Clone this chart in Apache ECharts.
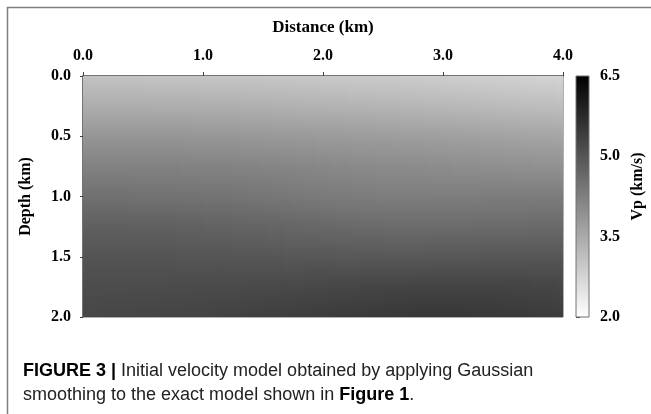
<!DOCTYPE html>
<html>
<head>
<meta charset="utf-8">
<script src="https://cdn.jsdelivr.net/npm/echarts@6/dist/echarts.min.js"></script>
<style>
  html, body { margin: 0; padding: 0; background: #ffffff; }
  #chart { width: 651px; height: 414px; }
</style>
</head>
<body>
<div id="chart"></div>
<script>
// Grid nodes of the smoothed velocity model (km)
const distanceKm = [0, 0.25, 0.5, 0.75, 1.0, 1.25, 1.5, 1.75, 2.0, 2.25, 2.5, 2.75, 3.0, 3.25, 3.5, 3.75, 4.0];
const depthKm = [0, 0.25, 0.5, 0.75, 1.0, 1.25, 1.5, 1.75, 2.0];

// P-wave velocity (km/s) at the nodes, one array per depth level
const vpDepth000 = [3.07, 3.06, 3.05, 3.04, 3.03, 3.02, 3.00, 2.98, 2.96, 2.94, 2.92, 2.90, 2.88, 2.85, 2.82, 2.79, 2.76];
const vpDepth025 = [3.45, 3.45, 3.44, 3.43, 3.42, 3.41, 3.39, 3.37, 3.35, 3.33, 3.31, 3.29, 3.26, 3.23, 3.20, 3.17, 3.15];
const vpDepth050 = [3.85, 3.85, 3.85, 3.85, 3.84, 3.83, 3.81, 3.79, 3.77, 3.75, 3.73, 3.71, 3.69, 3.66, 3.63, 3.60, 3.58];
const vpDepth075 = [4.20, 4.20, 4.20, 4.20, 4.19, 4.18, 4.16, 4.13, 4.10, 4.07, 4.05, 4.03, 4.01, 3.99, 3.97, 3.95, 3.93];
const vpDepth100 = [4.52, 4.52, 4.51, 4.50, 4.48, 4.46, 4.43, 4.39, 4.35, 4.32, 4.30, 4.29, 4.29, 4.30, 4.31, 4.32, 4.33];
const vpDepth125 = [4.82, 4.82, 4.81, 4.80, 4.78, 4.76, 4.73, 4.70, 4.67, 4.64, 4.62, 4.61, 4.61, 4.62, 4.63, 4.64, 4.65];
const vpDepth150 = [5.02, 5.02, 5.02, 5.01, 5.00, 4.99, 4.98, 4.97, 4.96, 4.95, 4.95, 4.95, 4.96, 4.97, 4.98, 4.98, 4.98];
const vpDepth175 = [5.15, 5.15, 5.16, 5.17, 5.18, 5.19, 5.21, 5.23, 5.25, 5.27, 5.29, 5.31, 5.32, 5.32, 5.31, 5.29, 5.27];
const vpDepth200 = [5.25, 5.26, 5.28, 5.30, 5.32, 5.35, 5.38, 5.41, 5.44, 5.47, 5.50, 5.52, 5.53, 5.52, 5.50, 5.47, 5.44];
const vpRows = [vpDepth000, vpDepth025, vpDepth050, vpDepth075, vpDepth100,
                vpDepth125, vpDepth150, vpDepth175, vpDepth200];

// Axis ranges and colour-bar ticks
const distanceRange = [0, 4];
const depthRange = [0, 2];
const vpRange = [2.0, 6.5];
const vpTickStep = 1.5;

const serif = 'Liberation Serif';
const sans = 'Liberation Sans';

// Linear grey scale: white at the lowest velocity, black at the highest
function greyFor(v) {
  const t = Math.min(1, Math.max(0, (v - vpRange[0]) / (vpRange[1] - vpRange[0])));
  const g = Math.round(255 * (1 - t));
  return 'rgb(' + g + ',' + g + ',' + g + ')';
}

function verticalShade(vTop, vBottom) {
  return new echarts.graphic.LinearGradient(0, 0, 0, 1, [
    { offset: 0, color: greyFor(vTop) },
    { offset: 1, color: greyFor(vBottom) }
  ]);
}

// One cell between each pair of neighbouring nodes: [x0, x1, z0, z1, v00, v10, v01, v11]
const cells = [];
for (let j = 0; j < depthKm.length - 1; j++) {
  for (let i = 0; i < distanceKm.length - 1; i++) {
    cells.push([distanceKm[i], distanceKm[i + 1], depthKm[j], depthKm[j + 1],
                vpRows[j][i], vpRows[j][i + 1], vpRows[j + 1][i], vpRows[j + 1][i + 1]]);
  }
}

// Each cell is shaded bilinearly from its four corner velocities,
// using narrow columns that each carry a vertical gradient.
function renderCell(params, api) {
  const p0 = api.coord([api.value(0), api.value(2)]);
  const p1 = api.coord([api.value(1), api.value(3)]);
  const left = Math.round(p0[0]), right = Math.round(p1[0]);
  const top = Math.round(p0[1]), bottom = Math.round(p1[1]);
  const vtl = api.value(4), vtr = api.value(5), vbl = api.value(6), vbr = api.value(7);
  const children = [];
  const step = 2;
  for (let x = left; x < right; x += step) {
    const w = Math.min(step, right - x);
    const f = (x + w / 2 - left) / (right - left);
    children.push({
      type: 'rect',
      shape: { x: x, y: top, width: w, height: bottom - top },
      style: { fill: verticalShade(vtl + (vtr - vtl) * f, vbl + (vbr - vbl) * f) }
    });
  }
  return { type: 'group', children: children };
}

function renderColourBar(params, api) {
  const p0 = api.coord([0, api.value(1)]);
  const p1 = api.coord([1, api.value(0)]);
  return {
    type: 'rect',
    shape: { x: p0[0], y: p0[1], width: p1[0] - p0[0], height: p1[1] - p0[1] },
    style: { fill: verticalShade(api.value(1), api.value(0)), stroke: '#707070', lineWidth: 1 }
  };
}

const axisText = { fontFamily: serif, fontWeight: 'bold', fontSize: 16, color: '#000' };

const chart = echarts.init(document.getElementById('chart'), null, { renderer: 'canvas' });
chart.setOption({
  animation: false,
  backgroundColor: '#ffffff',
  grid: [
    { left: 83, top: 76, width: 480, height: 241, show: true, borderColor: '#606060', borderWidth: 1, backgroundColor: 'transparent' },
    { left: 576, top: 76, width: 13, height: 241, show: false }
  ],
  xAxis: [
    {
      type: 'value', gridIndex: 0, position: 'top',
      min: distanceRange[0], max: distanceRange[1], interval: 1,
      name: 'Distance (km)', nameLocation: 'middle', nameGap: 40,
      nameTextStyle: Object.assign({}, axisText, { fontSize: 17 }),
      axisLine: { show: true, lineStyle: { color: '#606060', width: 1.5 } },
      axisTick: { show: true, inside: false, length: 4, lineStyle: { color: '#404040' } },
      axisLabel: Object.assign({ margin: 12, formatter: v => v.toFixed(1) }, axisText),
      splitLine: { show: false }
    },
    { type: 'value', gridIndex: 1, min: 0, max: 1, show: false }
  ],
  yAxis: [
    {
      type: 'value', gridIndex: 0, inverse: true,
      min: depthRange[0], max: depthRange[1], interval: 0.5,
      name: 'Depth (km)', nameLocation: 'middle', nameGap: 49, nameRotate: 90,
      nameTextStyle: axisText,
      axisLine: { show: true, lineStyle: { color: '#606060', width: 1.5 } },
      axisTick: { show: true, inside: false, length: 3, lineStyle: { color: '#404040' } },
      axisLabel: Object.assign({ margin: 12, formatter: v => v.toFixed(1) }, axisText),
      splitLine: { show: false }
    },
    {
      type: 'value', gridIndex: 1, position: 'right',
      min: vpRange[0], max: vpRange[1], interval: vpTickStep,
      name: 'Vp (km/s)', nameLocation: 'middle', nameGap: 41, nameRotate: 90,
      nameTextStyle: Object.assign({ padding: [0, 0, 0, 20] }, axisText),
      axisLine: { show: false },
      axisTick: { show: true, inside: false, length: 4, lineStyle: { color: '#404040' } },
      axisLabel: Object.assign({ margin: 11, formatter: v => v.toFixed(1) }, axisText),
      splitLine: { show: false }
    }
  ],
  series: [
    {
      type: 'custom', xAxisIndex: 0, yAxisIndex: 0,
      renderItem: renderCell, data: cells,
      encode: { x: [0, 1], y: [2, 3] },
      silent: true, clip: true, z: 1
    },
    {
      type: 'custom', xAxisIndex: 1, yAxisIndex: 1,
      renderItem: renderColourBar, data: [[vpRange[0], vpRange[1]]],
      encode: { y: [0, 1] },
      silent: true, z: 1
    }
  ],
  graphic: [
    {
      type: 'polyline', silent: true,
      shape: { points: [[7.5, 414], [7.5, 7.5], [651, 7.5]] },
      style: { stroke: '#808080', lineWidth: 1.5, fill: null }
    },
    {
      type: 'text', left: 23, top: 362, silent: true,
      style: {
        text: '{b|FIGURE 3 |} Initial velocity model obtained by applying Gaussian',
        font: '18px ' + sans, fill: '#222',
        rich: { b: { fontFamily: sans, fontWeight: 'bold', fontSize: 18, fill: '#000' } }
      }
    },
    {
      type: 'text', left: 23, top: 386, silent: true,
      style: {
        text: 'smoothing to the exact model shown in {b|Figure 1}.',
        font: '18px ' + sans, fill: '#222',
        rich: { b: { fontFamily: sans, fontWeight: 'bold', fontSize: 18, fill: '#000' } }
      }
    }
  ]
});
</script>
</body>
</html>
